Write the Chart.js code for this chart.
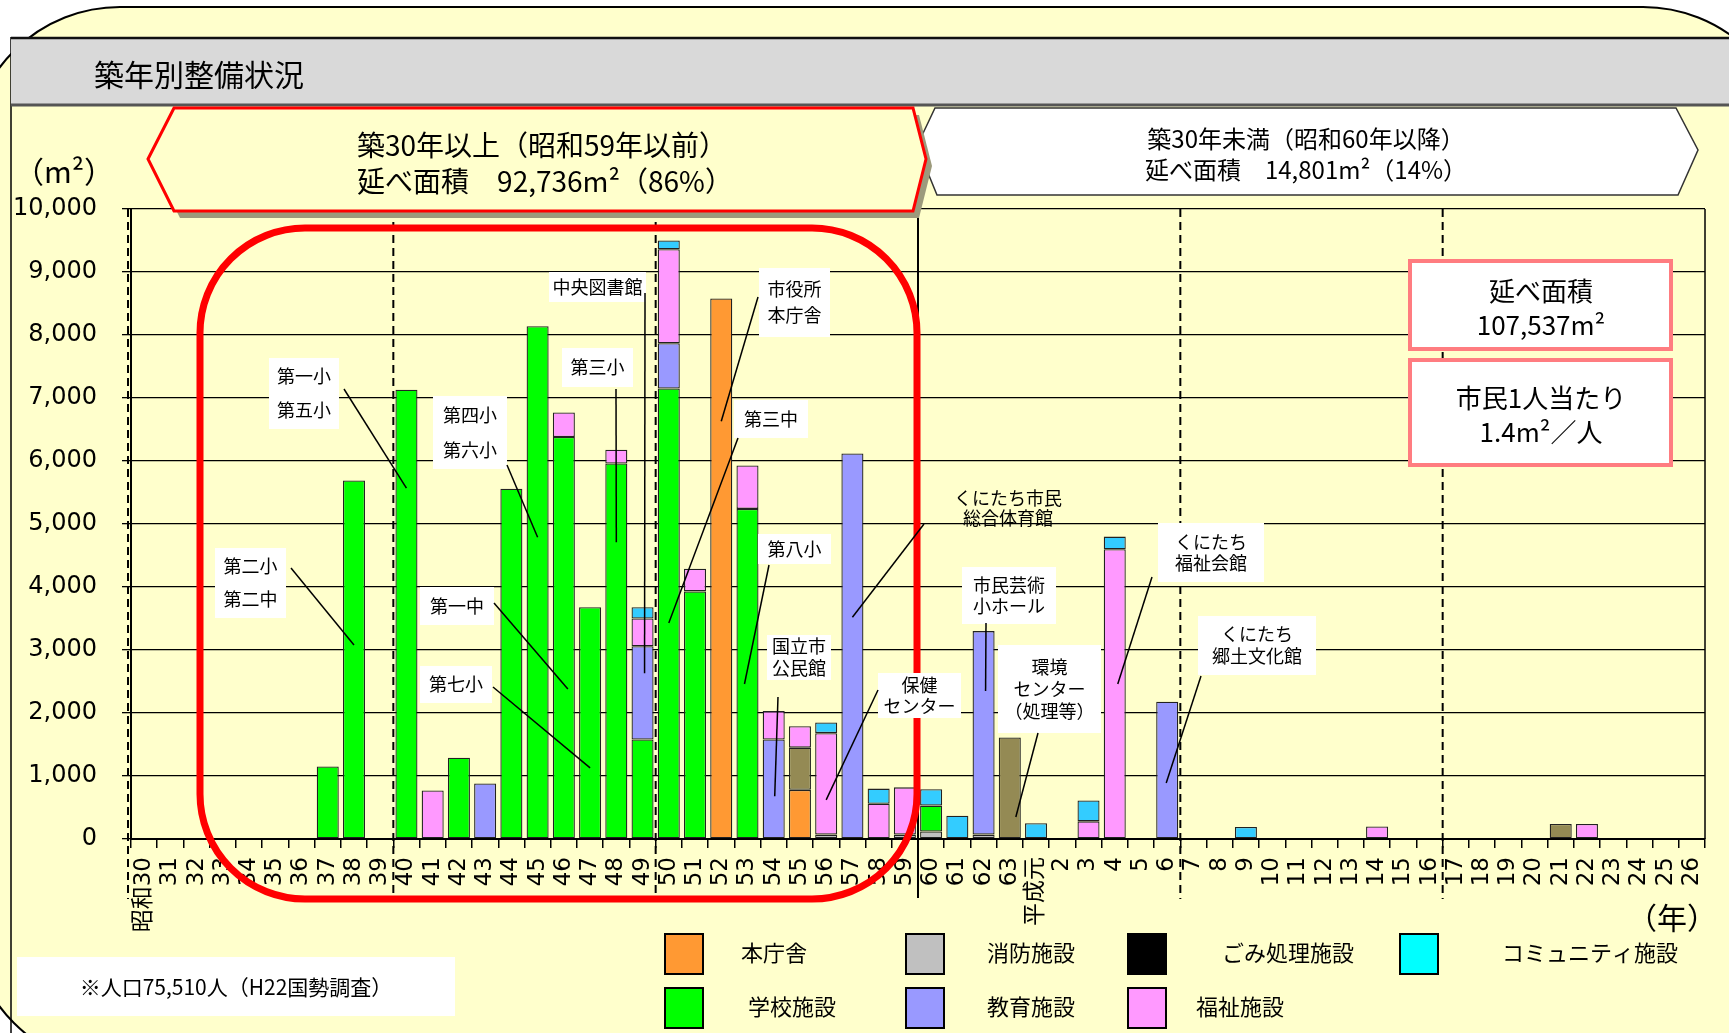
<!DOCTYPE html>
<html lang="ja">
<head>
<meta charset="utf-8">
<title>築年別整備状況</title>
<script src="https://cdn.jsdelivr.net/npm/chart.js@4.4.1/dist/chart.umd.min.js"></script>
<style>
  html, body { margin: 0; padding: 0; background: #fff; }
  canvas { display: block; }
</style>
</head>
<body>
<canvas id="chart" width="1729" height="1033"></canvas>
<script>
// 築年 (昭和30〜63, 平成元〜26)
var years = [
  '昭和30', '31', '32', '33', '34', '35', '36', '37', '38', '39',
  '40', '41', '42', '43', '44', '45', '46', '47', '48', '49',
  '50', '51', '52', '53', '54', '55', '56', '57', '58', '59',
  '60', '61', '62', '63', '平成元', '2', '3', '4', '5', '6',
  '7', '8', '9', '10', '11', '12', '13', '14', '15', '16',
  '17', '18', '19', '20', '21', '22', '23', '24', '25', '26'
];

// 延床面積 (m2) per category, rows of 10 years
var honchousha = [
  null, null, null, null, null, null, null, null, null, null,
  null, null, null, null, null, null, null, null, null, null,
  null, null, 8580, null, null, 780, null, null, null, null,
  null, null, null, null, null, null, null, null, null, null,
  null, null, null, null, null, null, null, null, null, null,
  null, null, null, null, null, null, null, null, null, null
];
var shobo = [
  null, null, null, null, null, null, null, null, null, null,
  null, null, null, null, null, null, null, null, null, null,
  null, null, null, null, null, null, 70, null, null, 70,
  120, null, 70, null, null, null, null, null, null, null,
  null, null, null, null, null, null, null, null, null, null,
  null, null, null, null, null, null, null, null, null, null
];
var gakko = [
  null, null, null, null, null, null, null, 1150, 5690, null,
  7130, null, 1290, null, 5560, 8140, 6380, 3680, 5960, 1580,
  7150, 3930, null, 5240, null, null, null, null, null, null,
  410, null, null, null, null, null, null, null, null, null,
  null, null, null, null, null, null, null, null, null, null,
  null, null, null, null, null, null, null, null, null, null
];
var gomi = [
  null, null, null, null, null, null, null, null, null, null,
  null, null, null, null, null, null, null, null, null, null,
  null, null, null, null, null, 670, null, null, null, null,
  null, null, null, 1610, null, null, null, null, null, null,
  null, null, null, null, null, null, null, null, null, null,
  null, null, null, null, 240, null, null, null, null, null
];
var kyoiku = [
  null, null, null, null, null, null, null, null, null, null,
  null, null, null, 880, null, null, null, null, null, 1480,
  720, null, null, null, 1580, null, null, 6120, null, null,
  null, null, 3230, null, null, null, null, null, null, 2180,
  null, null, null, null, null, null, null, null, null, null,
  null, null, null, null, null, null, null, null, null, null
];
var fukushi = [
  null, null, null, null, null, null, null, null, null, null,
  null, 770, null, null, null, null, 390, null, 220, 440,
  1490, 360, null, 690, 450, 340, 1610, null, 560, 750,
  null, null, null, null, null, null, 280, 4600, null, null,
  null, null, null, null, null, null, null, 200, null, null,
  null, null, null, null, null, 240, null, null, null, null
];
var community = [
  null, null, null, null, null, null, null, null, null, null,
  null, null, null, null, null, null, null, null, null, 180,
  140, null, null, null, null, null, 170, null, 240, null,
  260, 370, null, null, 250, null, 330, 200, null, null,
  null, null, 190, null, null, null, null, null, null, null,
  null, null, null, null, null, null, null, null, null, null
];

var yTicks = [0, 1000, 2000, 3000, 4000, 5000, 6000, 7000, 8000, 9000, 10000];

var PANEL = '#ffffcc';
var JP = '"Noto Sans CJK JP", "Noto Sans", sans-serif';

// legend (drawn by hand, colours as in the original key)
var legendNames = ['本庁舎', '消防施設', 'ごみ処理施設', 'コミュニティ施設', '学校施設', '教育施設', '福祉施設'];
var legendColors = ['#ff9933', '#c0c0c0', '#000000', '#00ffff', '#00ff00', '#9999ff', '#ff99ff'];
var legendSwatchX = [665, 906, 1128, 1400, 665, 906, 1128];
var legendTextX = [741, 987, 1222, 1502, 748, 987, 1196];
var legendRowY = [934, 934, 934, 934, 988, 988, 988];

// callouts: text, white box, leader start, and the bar it points to
var callouts = [
  { text: ['第一小', '第五小'], box: [269, 358, 70, 71], gap: 34, from: [344, 389], cat: 10, dx: 0, at: 5570 },
  { text: ['第二小', '第二中'], box: [215, 548, 71, 70], gap: 33, from: [291, 568], cat: 8, dx: 0, at: 3080 },
  { text: ['第四小', '第六小'], box: [433, 396, 74, 73], gap: 35, from: [507, 465], cat: 15, dx: 0, at: 4790 },
  { text: ['第一中'], box: [420, 587, 74, 38], gap: 0, from: [494, 603], cat: 16, dx: 4, at: 2380 },
  { text: ['第七小'], box: [420, 666, 72, 37], gap: 0, from: [493, 687], cat: 17, dx: 0, at: 1130 },
  { text: ['中央図書館'], box: [549, 272, 97, 30], gap: 0, from: [645, 293], cat: 19, dx: 2, at: 2630 },
  { text: ['第三小'], box: [562, 348, 71, 39], gap: 0, from: [616, 389], cat: 18, dx: 0, at: 4710 },
  { text: ['市役所', '本庁舎'], box: [759, 268, 71, 69], gap: 26, from: [758, 297], cat: 22, dx: 0, at: 6630 },
  { text: ['第三中'], box: [734, 400, 74, 38], gap: 0, from: [738, 438], cat: 20, dx: 0, at: 3430 },
  { text: ['第八小'], box: [758, 534, 73, 30], gap: 0, from: [769, 565], cat: 23, dx: -3, at: 2460 },
  { text: ['国立市', '公民館'], box: [767, 635, 64, 45], gap: 22, from: [778, 697], cat: 24, dx: 1, at: 680 },
  { text: ['保健', 'センター'], box: [878, 673, 83, 45], gap: 21, from: [878, 690], cat: 26, dx: 0, at: 620 },
  { text: ['くにたち市民', '総合体育館'], box: [958, 486, 100, 44], gap: 20, from: [924, 524], cat: 27, dx: 0, at: 3520, plain: true },
  { text: ['市民芸術', '小ホール'], box: [962, 567, 94, 57], gap: 21, from: [986, 623], cat: 32, dx: 2, at: 2350 },
  { text: ['環境', 'センター', '（処理等）'], box: [998, 645, 103, 88], gap: 22, from: [1038, 733], cat: 33, dx: 6, at: 350 },
  { text: ['くにたち', '福祉会館'], box: [1158, 523, 106, 59], gap: 21, from: [1152, 577], cat: 37, dx: 3, at: 2460 },
  { text: ['くにたち', '郷土文化館'], box: [1198, 616, 118, 59], gap: 22, from: [1201, 676], cat: 39, dx: -1, at: 890 }
];

function poly(ctx, pts) {
  ctx.beginPath();
  ctx.moveTo(pts[0][0], pts[0][1]);
  for (var i = 1; i < pts.length; i++) ctx.lineTo(pts[i][0], pts[i][1]);
  ctx.closePath();
}

function boundaryX(chart, i) {
  var a = chart.chartArea;
  return a.left + (i + 1) * (a.right - a.left) / years.length;
}

var decor = {
  id: 'decor',
  beforeDraw: function (chart) {
    var ctx = chart.ctx;
    ctx.save();
    ctx.fillStyle = '#fff';
    ctx.fillRect(0, 0, chart.width, chart.height);
    // outer rounded panel
    ctx.beginPath();
    ctx.roundRect(-30, 7, 1823, 1060, 150);
    ctx.fillStyle = PANEL;
    ctx.fill();
    ctx.lineWidth = 2;
    ctx.strokeStyle = '#000';
    ctx.stroke();
    // inner panel left edge
    ctx.beginPath();
    ctx.moveTo(11, 37);
    ctx.lineTo(11, 1033);
    ctx.lineWidth = 1.5;
    ctx.stroke();
    // title bar
    ctx.fillStyle = '#d9d9d9';
    ctx.fillRect(11, 37, 1720, 69);
    ctx.beginPath();
    ctx.moveTo(11, 38); ctx.lineTo(1729, 38);
    ctx.lineWidth = 2.5; ctx.strokeStyle = '#111'; ctx.stroke();
    ctx.beginPath();
    ctx.moveTo(11, 105); ctx.lineTo(1729, 105);
    ctx.lineWidth = 3; ctx.strokeStyle = '#555'; ctx.stroke();
    ctx.fillStyle = '#000';
    ctx.font = '30px ' + JP;
    ctx.textAlign = 'left';
    ctx.textBaseline = 'middle';
    ctx.fillText('築年別整備状況', 94, 75);
    ctx.restore();
  },
  afterDatasetsDraw: function (chart) {
    var ctx = chart.ctx, a = chart.chartArea;
    var xs = chart.scales.x, ys = chart.scales.y;
    ctx.save();
    // right frame
    ctx.beginPath();
    ctx.moveTo(a.right, a.top); ctx.lineTo(a.right, a.bottom);
    ctx.lineWidth = 1.5; ctx.strokeStyle = '#000'; ctx.stroke();
    // decade dividers
    ctx.setLineDash([8, 5]);
    ctx.lineWidth = 2;
    var dashX = [a.left - 3, boundaryX(chart, 9), boundaryX(chart, 19), boundaryX(chart, 39), boundaryX(chart, 49)];
    dashX.forEach(function (x) {
      ctx.beginPath(); ctx.moveTo(x, a.top); ctx.lineTo(x, 899); ctx.stroke();
    });
    ctx.setLineDash([]);
    var sx = boundaryX(chart, 29);
    ctx.beginPath(); ctx.moveTo(sx, a.top - 6); ctx.lineTo(sx, 898); ctx.stroke();
    // red rounded frame (built 30+ years)
    ctx.beginPath();
    ctx.roundRect(200, 228, 717, 671, 105);
    ctx.lineWidth = 7; ctx.strokeStyle = '#ff0000'; ctx.stroke();
    // callouts
    ctx.font = '18px ' + JP;
    ctx.textAlign = 'center';
    ctx.textBaseline = 'middle';
    callouts.forEach(function (c) {
      var b = c.box;
      if (!c.plain) {
        ctx.fillStyle = '#fff';
        ctx.fillRect(b[0], b[1], b[2], b[3]);
      }
      ctx.fillStyle = '#000';
      var cy = b[1] + b[3] / 2 - (c.text.length - 1) * c.gap / 2;
      c.text.forEach(function (t, i) {
        ctx.fillText(t, b[0] + b[2] / 2, cy + i * c.gap);
      });
      ctx.beginPath();
      ctx.moveTo(c.from[0], c.from[1]);
      ctx.lineTo(xs.getPixelForValue(c.cat) + c.dx, ys.getPixelForValue(c.at));
      ctx.lineWidth = 1.5; ctx.strokeStyle = '#000'; ctx.stroke();
    });
    ctx.restore();
  },
  afterDraw: function (chart) {
    var ctx = chart.ctx;
    ctx.save();
    ctx.textAlign = 'center';
    ctx.textBaseline = 'middle';
    // right banner
    poly(ctx, [[917, 146], [935, 108], [1676, 108], [1698, 150], [1678, 195], [937, 195]]);
    ctx.fillStyle = '#fff'; ctx.fill();
    ctx.lineWidth = 1.5; ctx.strokeStyle = '#333'; ctx.stroke();
    ctx.fillStyle = '#000';
    ctx.font = '24px ' + JP;
    ctx.fillText('築30年未満（昭和60年以降）', 1306, 139);
    ctx.fillText('延べ面積　14,801m²（14%）', 1306, 170);
    // left banner with shadow
    var lb = [[148, 159], [174, 108], [913, 108], [926, 159], [913, 211], [174, 211]];
    poly(ctx, lb.map(function (p) { return [p[0] + 6, p[1] + 7]; }));
    ctx.fillStyle = '#9c9a7c'; ctx.fill();
    poly(ctx, lb);
    ctx.fillStyle = PANEL; ctx.fill();
    ctx.lineWidth = 3; ctx.strokeStyle = '#ff0000'; ctx.stroke();
    ctx.fillStyle = '#000';
    ctx.font = '28px ' + JP;
    ctx.fillText('築30年以上（昭和59年以前）', 542, 145);
    ctx.fillText('延べ面積　92,736m²（86%）', 545, 181);
    // summary boxes
    ctx.lineWidth = 4; ctx.strokeStyle = '#ff7c80';
    ctx.fillStyle = '#fff';
    ctx.fillRect(1410, 261, 261, 88); ctx.strokeRect(1410, 261, 261, 88);
    ctx.fillRect(1410, 360, 261, 105); ctx.strokeRect(1410, 360, 261, 105);
    ctx.fillStyle = '#000';
    ctx.font = '26px ' + JP;
    ctx.fillText('延べ面積', 1541, 291);
    ctx.fillText('107,537m²', 1541, 325);
    ctx.fillText('市民1人当たり', 1541, 398);
    ctx.fillText('1.4m²／人', 1541, 432);
    // axis units
    ctx.font = '30px ' + JP;
    ctx.fillText('（m²）', 64, 172);
    ctx.fillText('（年）', 1672, 918);
    // population note
    ctx.fillStyle = '#fff';
    ctx.fillRect(17, 957, 438, 59);
    ctx.fillStyle = '#000';
    ctx.font = '21px ' + JP;
    ctx.fillText('※人口75,510人（H22国勢調査）', 236, 987);
    // legend
    ctx.textAlign = 'left';
    ctx.font = '22px ' + JP;
    legendNames.forEach(function (name, i) {
      var x = legendSwatchX[i], y = legendRowY[i];
      ctx.fillStyle = legendColors[i];
      ctx.fillRect(x, y, 38, 40);
      ctx.lineWidth = 2; ctx.strokeStyle = '#000';
      ctx.strokeRect(x, y, 38, 40);
      ctx.fillStyle = '#000';
      ctx.fillText(name, legendTextX[i], y + 19);
    });
    ctx.restore();
  }
};

function series(label, data, color) {
  return {
    label: label,
    data: data,
    backgroundColor: color,
    borderColor: '#222',
    borderWidth: 1.3,
    borderSkipped: false,
    barPercentage: 0.84,
    categoryPercentage: 1.0
  };
}

new Chart(document.getElementById('chart').getContext('2d'), {
  type: 'bar',
  data: {
    labels: years,
    datasets: [
      series('本庁舎', honchousha, '#ff9933'),
      series('消防施設', shobo, '#c0c0c0'),
      series('学校施設', gakko, '#00ff00'),
      series('ごみ処理施設', gomi, '#948a54'),
      series('教育施設', kyoiku, '#9999ff'),
      series('福祉施設', fukushi, '#ff99ff'),
      series('コミュニティ施設', community, '#33ccff')
    ]
  },
  options: {
    responsive: false,
    animation: false,
    devicePixelRatio: 1,
    layout: { padding: { left: 0, right: 24, top: 209, bottom: 0 } },
    plugins: {
      legend: { display: false },
      tooltip: { enabled: false },
      title: { display: false }
    },
    scales: {
      x: {
        stacked: true,
        grid: { drawOnChartArea: false, drawTicks: true, tickLength: 9, color: '#000', lineWidth: 1.5 },
        border: { color: '#000', width: 2 },
        ticks: {
          autoSkip: false, minRotation: 90, maxRotation: 90, padding: 9,
          color: '#000',
          font: { family: '"DejaVu Sans", ' + JP, size: 23 }
        },
        afterFit: function (s) { s.height = 194; }
      },
      y: {
        stacked: true,
        min: 0,
        max: 10000,
        afterBuildTicks: function (s) { s.ticks = yTicks.map(function (v) { return { value: v }; }); },
        grid: { color: '#000', lineWidth: 1.3, tickLength: 9 },
        border: { color: '#000', width: 2 },
        ticks: {
          padding: 25,
          color: '#000',
          font: { family: '"DejaVu Sans", sans-serif', size: 24 },
          callback: function (v) { return Number(v).toLocaleString('en-US'); }
        },
        afterFit: function (s) { s.width = 131; }
      }
    }
  },
  plugins: [decor]
});
</script>
</body>
</html>
